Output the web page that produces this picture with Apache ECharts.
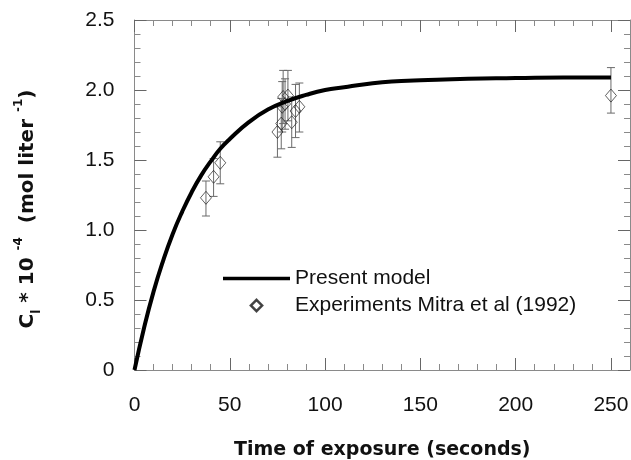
<!DOCTYPE html>
<html>
<head>
<meta charset="utf-8">
<script src="https://cdn.jsdelivr.net/npm/echarts@6/dist/echarts.min.js"></script>
<style>
html,body{margin:0;padding:0;background:#fff;}
#c{width:631px;height:460px;}
</style>
</head>
<body>
<div id="c"></div>
<script>
// Present model curve
const modelTime = [0, 5, 10, 15, 20, 25, 30, 35, 40, 45, 50, 60, 70, 80, 90, 100, 110, 120, 130, 140, 150, 175, 200, 225, 250];
const modelC    = [0, 0.30, 0.56, 0.78, 0.97, 1.13, 1.27, 1.39, 1.49, 1.58, 1.65, 1.77, 1.86, 1.92, 1.965, 2.00, 2.02, 2.04, 2.055, 2.065, 2.07, 2.08, 2.085, 2.09, 2.09];

// Experiments Mitra et al (1992)
const expTime = [37.5, 41.5, 45, 75, 77, 77.5, 78, 79, 80.5, 82.5, 84.5, 86.5, 250];
const expC    = [1.23, 1.38, 1.48, 1.70, 1.76, 1.88, 1.95, 1.90, 1.96, 1.77, 1.85, 1.88, 1.96];
const expLow  = [1.10, 1.24, 1.33, 1.52, 1.58, 1.70, 1.76, 1.72, 1.78, 1.59, 1.66, 1.70, 1.835];
const expHigh = [1.35, 1.51, 1.63, 1.88, 1.94, 2.06, 2.14, 2.08, 2.14, 1.95, 2.04, 2.05, 2.16];

// tick labels
const xTicks = [0, 50, 100, 150, 200, 250];
const yTicks = [0, 0.5, 1.0, 1.5, 2.0, 2.5];

const modelName = 'Present model';
const expName = 'Experiments Mitra et al (1992)';

const chart = echarts.init(document.getElementById('c'), null, {renderer: 'canvas'});

const axisColor = '#8a8a8a';
const labelFont = {fontSize: 21, fontFamily: 'Liberation Sans, Arial, sans-serif', color: '#111'};

function frameAxis(ticks, extra) {
  return Object.assign({
    type: 'value',
    axisLine: {show: true, onZero: false, lineStyle: {color: axisColor, width: 1}},
    axisTick: {show: true, inside: true, length: 12, customValues: ticks, lineStyle: {color: '#666', width: 1}},
    minorTick: {show: true, splitNumber: 5, length: 6, lineStyle: {color: axisColor, width: 1}},
    splitLine: {show: false},
    minorSplitLine: {show: false}
  }, extra);
}

const nameFont = {fontWeight: 'bold', fontFamily: 'DejaVu Sans', color: '#111'};

const option = {
  animation: false,
  backgroundColor: '#fff',
  grid: {left: 134.5, right: 1, top: 20, bottom: 90, containLabel: false, outerBoundsMode: 'none'},
  legend: {
    orient: 'vertical',
    left: 218,
    top: 263,
    itemWidth: 67,
    itemHeight: 12,
    itemGap: 6,
    selectedMode: false,
    textStyle: labelFont,
    data: [
      {name: modelName, icon: 'path://M0,0 L67,0 L67,3.6 L0,3.6 Z', itemStyle: {color: '#000'}},
      {name: expName, icon: 'path://M6,0 L12,6 L6,12 L0,6 Z M6,0.8 L0.8,6 L6,11.2 L11.2,6 Z', itemStyle: {color: '#333'}}
    ]
  },
  xAxis: [
    frameAxis(xTicks, {
      position: 'bottom', min: 0, max: 260, interval: 50,
      name: 'Time of exposure (seconds)',
      nameLocation: 'middle', nameGap: 71,
      nameTextStyle: Object.assign({fontSize: 19}, nameFont),
      axisLabel: Object.assign({margin: 25, customValues: xTicks,
        formatter: v => String(v)}, labelFont)
    }),
    frameAxis(xTicks, {position: 'top', min: 0, max: 260, interval: 50, axisLabel: {show: false}})
  ],
  yAxis: [
    frameAxis(yTicks, {
      position: 'left', min: 0, max: 2.5, interval: 0.5,
      name: '{b|C}{sub|l}{b| * 10 }{sup|-4}{b|  (mol liter }{sup|-1}{b|)}',
      nameLocation: 'middle', nameGap: 92, nameRotate: 90,
      nameTextStyle: {
        padding: [0, 28, 0, 0],
        rich: {
          b: Object.assign({fontSize: 20, lineHeight: 30}, nameFont),
          sub: Object.assign({fontSize: 12, verticalAlign: 'bottom', lineHeight: 12}, nameFont),
          sup: Object.assign({fontSize: 12, verticalAlign: 'top', lineHeight: 12}, nameFont)
        }
      },
      axisLabel: Object.assign({margin: 20, customValues: yTicks,
        formatter: v => (v === 0 ? '0' : v.toFixed(1))}, labelFont)
    }),
    frameAxis(yTicks, {position: 'right', min: 0, max: 2.5, interval: 0.5, axisLabel: {show: false}})
  ],
  series: [
    {
      name: 'errorbars',
      type: 'custom',
      xAxisIndex: 0, yAxisIndex: 0,
      z: 2,
      silent: true,
      data: expTime.map((t, i) => [t, expLow[i], expHigh[i]]),
      renderItem: function (params, api) {
        const x = api.value(0);
        const lo = api.coord([x, api.value(1)]);
        const hi = api.coord([x, api.value(2)]);
        const hw = 4;
        const st = {stroke: '#6a6a6a', lineWidth: 1};
        return {
          type: 'group',
          children: [
            {type: 'line', shape: {x1: lo[0], y1: lo[1], x2: hi[0], y2: hi[1]}, style: st},
            {type: 'line', shape: {x1: lo[0] - hw, y1: lo[1], x2: lo[0] + hw, y2: lo[1]}, style: st},
            {type: 'line', shape: {x1: hi[0] - hw, y1: hi[1], x2: hi[0] + hw, y2: hi[1]}, style: st}
          ]
        };
      }
    },
    {
      name: expName,
      type: 'scatter',
      xAxisIndex: 0, yAxisIndex: 0,
      z: 3,
      symbol: 'diamond',
      symbolSize: [11, 13],
      itemStyle: {color: 'rgba(255,255,255,0)', borderColor: '#222', borderWidth: 0.9},
      data: expTime.map((t, i) => [t, expC[i]])
    },
    {
      name: modelName,
      type: 'line',
      xAxisIndex: 0, yAxisIndex: 0,
      z: 4,
      showSymbol: false,
      symbol: 'none',
      smooth: true,
      lineStyle: {color: '#000', width: 4},
      itemStyle: {color: '#000'},
      data: modelTime.map((t, i) => [t, modelC[i]])
    }
  ]
};
chart.setOption(option);
</script>
</body>
</html>
